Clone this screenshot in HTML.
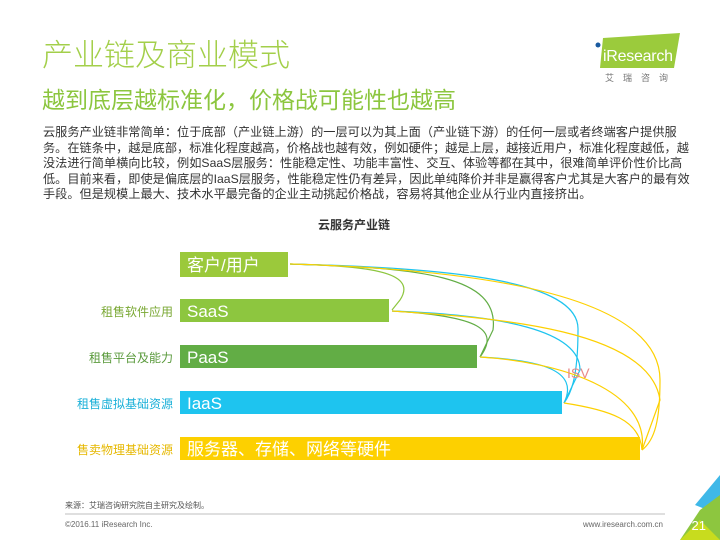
<!DOCTYPE html><html><head><meta charset="utf-8"><style>
body{margin:0;width:720px;height:540px;overflow:hidden;background:#fff;position:relative;font-family:"Liberation Sans","Noto Sans CJK SC",sans-serif}
.a{position:absolute;white-space:nowrap}
</style></head><body>
<div class="a" style="left:42px;top:38px;font-size:31px;color:#a3cf4a;line-height:36px;font-weight:300">产业链及商业模式</div>
<div class="a" style="left:42px;top:86px;font-size:23px;color:#8cc63f;line-height:28px">越到底层越标准化，价格战可能性也越高</div>
<div class="a" style="left:43px;top:125px;font-size:12.2px;color:#333;line-height:15.5px">云服务产业链非常简单：位于底部（产业链上游）的一层可以为其上面（产业链下游）的任何一层或者终端客户提供服<br>务。在链条中，越是底部，标准化程度越高，价格战也越有效，例如硬件；越是上层，越接近用户，标准化程度越低，越<br>没法进行简单横向比较，例如SaaS层服务：性能稳定性、功能丰富性、交互、体验等都在其中，很难简单评价性价比高<br>低。目前来看，即使是偏底层的IaaS层服务，性能稳定性仍有差异，因此单纯降价并非是赢得客户尤其是大客户的最有效<br>手段。但是规模上最大、技术水平最完备的企业主动挑起价格战，容易将其他企业从行业内直接挤出。</div>
<div class="a" style="left:318px;top:216px;font-size:12px;font-weight:bold;color:#333">云服务产业链</div>
<svg class="a" style="left:0;top:0" width="720" height="540">
<polygon points="603,38 680,33 674,68 600,68" fill="#9bcb3c"/>
<text x="603" y="61" font-size="16" fill="#fff" font-family="Liberation Sans" textLength="70">iResearch</text>
<circle cx="598" cy="45" r="2.5" fill="#1a5aa0"/>
<text x="605" y="81" font-size="9" fill="#777" letter-spacing="9" font-family="Noto Sans CJK SC">艾瑞咨询</text>
<rect x="180" y="252" width="108" height="25" fill="#9bc93b"/>
<rect x="180" y="299" width="209" height="23" fill="#8dc63f"/>
<rect x="180" y="345" width="297" height="23" fill="#62ad45"/>
<rect x="180" y="391" width="382" height="23" fill="#1ec4ef"/>
<rect x="180" y="437" width="460" height="23" fill="#fdd000"/>
<g fill="#fff" font-family="Liberation Sans,Noto Sans CJK SC" font-size="17">
<text x="187" y="271">客户/用户</text><text x="187" y="317">SaaS</text><text x="187" y="363">PaaS</text><text x="187" y="409">IaaS</text><text x="187" y="455">服务器、存储、网络等硬件</text></g>
<g font-size="12" text-anchor="end" font-family="Noto Sans CJK SC">
<text x="173" y="316" fill="#7aa834">租售软件应用</text><text x="173" y="362" fill="#5a9a3c">租售平台及能力</text><text x="173" y="408" fill="#1ab0d8">租售虚拟基础资源</text><text x="173" y="454" fill="#e6b800">售卖物理基础资源</text></g>
<g fill="none" stroke-width="1.2">
<path d="M290,264 C360,266 420,270 400,300 L392,310" stroke="#8dc63f"/>
<path d="M290,264 C420,268 500,275 493,330 L480,357" stroke="#62ad45"/>
<path d="M290,264 C450,268 580,280 578,330 C578,380 570,395 564,403" stroke="#1ec4ef"/>
<path d="M290,264 C500,270 660,300 660,380 C660,420 655,440 642,450" stroke="#fdd000"/>
<path d="M392,311 C480,316 500,330 480,357" stroke="#62ad45"/>
<path d="M392,311 C500,315 580,330 580,370 L564,403" stroke="#1ec4ef"/>
<path d="M392,311 C500,318 650,330 660,400 L642,450" stroke="#fdd000"/>
<path d="M480,357 C540,360 580,370 564,403" stroke="#1ec4ef"/>
<path d="M480,357 C560,362 650,390 642,450" stroke="#fdd000"/>
<path d="M564,403 C610,410 640,420 642,450" stroke="#fdd000"/>
</g>
<text x="567" y="378" font-size="14" fill="#e88a8a" font-family="Liberation Sans">ISV</text>
<text x="65" y="508" font-size="8" fill="#555" font-family="Noto Sans CJK SC">来源：艾瑞咨询研究院自主研究及绘制。</text>
<line x1="65" y1="514" x2="665" y2="514" stroke="#aaa" stroke-width="0.8"/>
<text x="65" y="527" font-size="8" fill="#666">©2016.11 iResearch Inc.</text>
<text x="663" y="527" font-size="8" fill="#666" text-anchor="end">www.iresearch.com.cn</text>
<polygon points="720,475 720,515 695,505" fill="#3fb8e8"/>
<polygon points="720,495 720,540 680,540 700,510" fill="#8dc63f"/>
<polygon points="680,540 700,520 720,540" fill="#c8dc1e"/>
<text x="706" y="530" font-size="13" fill="#fff" text-anchor="end">21</text>
</svg>
</body></html>
